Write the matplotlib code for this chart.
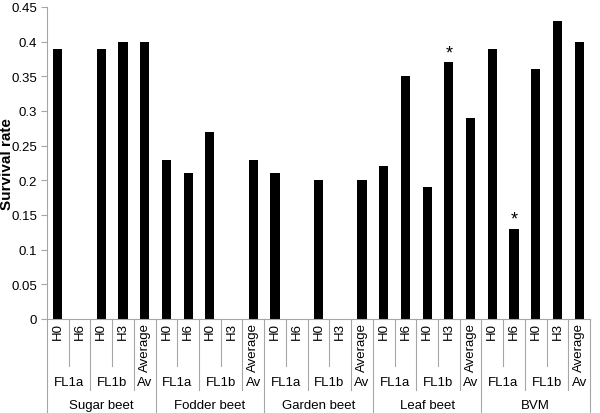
import matplotlib
matplotlib.use("Agg")
import matplotlib.pyplot as plt
from matplotlib.transforms import blended_transform_factory
from matplotlib.lines import Line2D

plt.rcParams['font.family'] = ['Liberation Sans', 'DejaVu Sans']

groups = ["Sugar beet", "Fodder beet", "Garden beet", "Leaf beet", "BVM"]
subgroups = ["FL1a", "FL1b", "Av"]
sub_sizes = [2, 2, 1]
treatments = ["H0", "H6", "H0", "H3", "Average"]

# survival rate per group, order follows treatments (None = no bar)
values = {
    "Sugar beet":  [0.39, None, 0.39, 0.40, 0.40],
    "Fodder beet": [0.23, 0.21, 0.27, None, 0.23],
    "Garden beet": [0.21, None, 0.20, None, 0.20],
    "Leaf beet":   [0.22, 0.35, 0.19, 0.37, 0.29],
    "BVM":         [0.39, 0.13, 0.36, 0.43, 0.40],
}
# (group, treatment index) marked with an asterisk
stars = [("Leaf beet", 3), ("BVM", 1)]

W, H = 600, 414
fig = plt.figure(figsize=(W / 100, H / 100), dpi=100)
ax = fig.add_axes([47 / W, (H - 320) / H, (590 - 47) / W, (320 - 8) / H])

grey = "#a6a6a6"
n = len(treatments)
xs, hs = [], []
for gi, g in enumerate(groups):
    for ti, v in enumerate(values[g]):
        x = gi * n + ti
        if v is not None:
            xs.append(x)
            hs.append(v)
ax.bar(xs, hs, width=0.42, color="black")

for g, ti in stars:
    x = groups.index(g) * n + ti
    ax.text(x, values[g][ti] + 0.002, "*", ha="center", va="bottom", fontsize=13)

total = len(groups) * n
ax.set_xlim(-0.5, total - 0.5)
ax.set_ylim(0, 0.45)
ax.set_yticks([0, 0.05, 0.1, 0.15, 0.2, 0.25, 0.3, 0.35, 0.4, 0.45])
ax.set_yticklabels(["0", "0.05", "0.1", "0.15", "0.2", "0.25", "0.3", "0.35", "0.4", "0.45"])
ax.set_xticks([])
for s in ["top", "right"]:
    ax.spines[s].set_visible(False)
ax.spines["left"].set_color(grey)
ax.spines["bottom"].set_color(grey)
ax.tick_params(axis="y", colors=grey, labelcolor="black", labelsize=9.5, length=4, pad=3, direction="out")
ax.set_ylabel("Survival rate", fontsize=11, fontweight="bold")
ax.yaxis.set_label_coords((14 - 47) / (590 - 47), 0.5)

tr = blended_transform_factory(ax.transData, fig.transFigure)
def fy(py):
    return 1 - py / H

def vline(x, y_bottom):
    fig.add_artist(Line2D([x, x], [fy(320), fy(y_bottom)], transform=tr, color=grey, lw=0.8, clip_on=False))

# level boundaries
for gi in range(len(groups) + 1):
    vline(gi * n - 0.5, H)
for gi, g in enumerate(groups):
    pos = gi * n
    for si, (sg, size) in enumerate(zip(subgroups, sub_sizes)):
        if si > 0:
            vline(pos - 0.5, 391)
        for k in range(size):
            if k > 0:
                vline(pos + k - 0.5, 367)
        ax.text(pos + (size - 1) / 2, fy(383), sg, transform=tr, ha="center", va="center", fontsize=9.5)
        pos += size
    for ti, t in enumerate(treatments):
        ax.text(gi * n + ti, fy(323), t, transform=tr, rotation=90, ha="center", va="top", fontsize=9.5)
    ax.text(gi * n + (n - 1) / 2, fy(406), g, transform=tr, ha="center", va="center", fontsize=9.5)

fig.savefig("out.png", dpi=100)
